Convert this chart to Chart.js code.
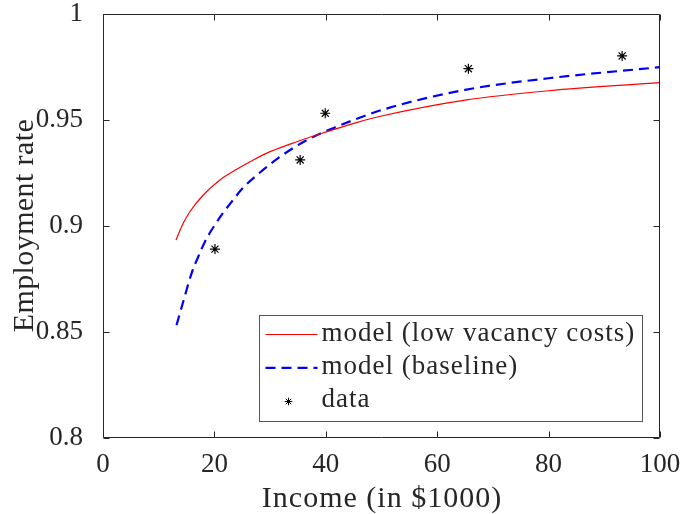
<!DOCTYPE html>
<html>
<head>
<meta charset="utf-8">
<script src="https://cdn.jsdelivr.net/npm/chart.js@4/dist/chart.umd.min.js"></script>
<style>
  html, body { margin: 0; padding: 0; background: #ffffff; font-family: "Liberation Serif", serif; }
  #wrap { width: 682px; height: 514px; }
</style>
</head>
<body>
<div id="wrap"><canvas id="chart" width="682" height="514"></canvas></div>
<script>
// Model: low vacancy costs
const incomeLowCost = [13.1, 14.4, 15.6, 18, 21, 24, 27, 30, 34.8, 39.6, 45.5, 50, 65, 80, 100];
const rateLowCost   = [0.8933, 0.9012, 0.9066, 0.9145, 0.9216, 0.9266, 0.9310, 0.9349, 0.9396, 0.9438, 0.9486, 0.9517, 0.9592, 0.9636, 0.9674];

// Model: baseline
const incomeBaseline = [13.2, 14.4, 15.9, 17.1, 18.3, 19.5, 21.3, 23.1, 24.9, 27.3, 31.8, 36.6, 42, 50, 65, 80, 100];
const rateBaseline   = [0.8532, 0.8642, 0.8776, 0.8854, 0.8925, 0.8980, 0.9051, 0.9113, 0.9172, 0.9231, 0.9325, 0.9404, 0.9467, 0.9545, 0.9640, 0.9695, 0.9747];

// Observed data
const incomeData = [20.1, 35.4, 39.9, 65.6, 93.2];
const rateData   = [0.889, 0.931, 0.953, 0.974, 0.980];

// Axes
const xTicks = [0, 20, 40, 60, 80, 100];
const xTickLabels = ['0', '20', '40', '60', '80', '100'];
const yTicks = [0.8, 0.85, 0.9, 0.95, 1];
const yTickLabels = ['0.8', '0.85', '0.9', '0.95', '1'];
const xTitle = 'Income (in $1000)';
const yTitle = 'Employment rate';
const seriesNames = ['model (low vacancy costs)', 'model (baseline)', 'data'];

const INK = '#262626';
const SERIF = '"Liberation Serif"';

const toPoints = (xs, ys) => xs.map((x, i) => ({ x: x, y: ys[i] }));

// Box around the plot with inward tick marks on all four sides
const framePlugin = {
  id: 'frame',
  afterDraw(chart) {
    const { ctx, chartArea: a, scales } = chart;
    const L = Math.round(a.left) + 0.5, R = Math.round(a.right) - 0.5;
    const T = Math.round(a.top) + 0.5, B = Math.round(a.bottom) - 0.5;
    const tick = 6;
    ctx.save();
    ctx.strokeStyle = INK;
    ctx.lineWidth = 1;
    ctx.beginPath();
    ctx.rect(L, T, R - L, B - T);
    xTicks.forEach(v => {
      const px = Math.round(scales.x.getPixelForValue(v)) + 0.5;
      ctx.moveTo(px, B); ctx.lineTo(px, B - tick);
      ctx.moveTo(px, T); ctx.lineTo(px, T + tick);
    });
    yTicks.forEach(v => {
      const py = Math.round(scales.y.getPixelForValue(v)) + 0.5;
      ctx.moveTo(L, py); ctx.lineTo(L + tick, py);
      ctx.moveTo(R, py); ctx.lineTo(R - tick, py);
    });
    ctx.stroke();
    ctx.restore();
  }
};

// Draw a string with a small extra gap after each glyph
function spacedText(ctx, text, x, y, gap, align) {
  const width = ctx.measureText(text).width + gap * (text.length - 1);
  let cx = align === 'center' ? x - width / 2 : x;
  const saved = ctx.textAlign;
  ctx.textAlign = 'left';
  for (const ch of text) {
    ctx.fillText(ch, cx, y);
    cx += ctx.measureText(ch).width + gap;
  }
  ctx.textAlign = saved;
}

// Axis titles
const titlePlugin = {
  id: 'axisTitles',
  afterDraw(chart) {
    const { ctx, chartArea: a } = chart;
    ctx.save();
    ctx.fillStyle = INK;
    ctx.font = '30px ' + SERIF;
    ctx.textBaseline = 'alphabetic';
    spacedText(ctx, xTitle, (a.left + a.right) / 2, 507, 1.0, 'center');
    ctx.translate(33, (a.top + a.bottom) / 2);
    ctx.rotate(-Math.PI / 2);
    spacedText(ctx, yTitle, 0, 0, 0.4, 'center');
    ctx.restore();
  }
};

// Legend box in the lower right corner of the plot
const legendPlugin = {
  id: 'boxLegend',
  afterDraw(chart) {
    const { ctx, chartArea: a } = chart;
    const ds = chart.data.datasets;
    const w = 383, h = 106;
    const left = Math.round(a.right - 401) + 0.5;
    const top = Math.round(a.bottom - 123) + 0.5;
    ctx.save();
    ctx.fillStyle = '#ffffff';
    ctx.fillRect(left, top, w, h);
    ctx.strokeStyle = '#555555';
    ctx.lineWidth = 1;
    ctx.strokeRect(left, top, w, h);

    const rows = [19, 52.3, 86];
    const baselines = [25.7, 58.5, 91.7];
    ds.forEach((d, i) => {
      const y = top + rows[i];
      if (d.showLine !== false) {
        ctx.save();
        ctx.strokeStyle = d.borderColor;
        ctx.lineWidth = d.borderWidth;
        ctx.setLineDash(d.borderDash || []);
        ctx.beginPath();
        ctx.moveTo(left + 6, y);
        ctx.lineTo(left + 58, y);
        ctx.stroke();
        ctx.restore();
      } else {
        ctx.save();
        ctx.strokeStyle = d.borderColor;
        ctx.fillStyle = d.borderColor;
        ctx.lineWidth = 1;
        Chart.helpers.drawPoint(ctx, { pointStyle: 'star', radius: 3.8, rotation: 0, borderWidth: 1 }, left + 29, y);
        ctx.restore();
      }
      ctx.fillStyle = INK;
      ctx.font = '27px ' + SERIF;
      ctx.textBaseline = 'alphabetic';
      spacedText(ctx, d.label, left + 62, top + baselines[i], 1.0, 'left');
    });
    ctx.restore();
  }
};

const chart = new Chart(document.getElementById('chart'), {
  type: 'scatter',
  data: {
    datasets: [
      {
        label: seriesNames[0],
        data: toPoints(incomeLowCost, rateLowCost),
        showLine: true,
        borderColor: '#ff0000',
        borderWidth: 1.2,
        pointRadius: 0,
        cubicInterpolationMode: 'monotone',
        fill: false
      },
      {
        label: seriesNames[1],
        data: toPoints(incomeBaseline, rateBaseline),
        showLine: true,
        borderColor: '#0000ff',
        borderWidth: 2.2,
        borderDash: [10, 6],
        pointRadius: 0,
        cubicInterpolationMode: 'monotone',
        fill: false
      },
      {
        label: seriesNames[2],
        data: toPoints(incomeData, rateData),
        showLine: false,
        pointStyle: 'star',
        pointRadius: 5,
        pointBorderWidth: 1.2,
        borderColor: '#000000',
        backgroundColor: '#000000'
      }
    ]
  },
  options: {
    responsive: false,
    animation: false,
    devicePixelRatio: 1,
    layout: { padding: { top: 13.5, right: 22, left: 0, bottom: 0 } },
    plugins: {
      legend: { display: false },
      tooltip: { enabled: false }
    },
    scales: {
      x: {
        type: 'linear',
        min: 0,
        max: 100,
        afterBuildTicks: s => { s.ticks = xTicks.map(v => ({ value: v })); },
        afterFit: s => { s.height = 76; s.paddingLeft = 0; s.paddingRight = 0; },
        grid: { display: false },
        border: { display: false },
        ticks: {
          autoSkip: false,
          maxRotation: 0,
          padding: 3,
          color: INK,
          font: { family: SERIF, size: 27, lineHeight: 1.2 },
          callback: v => xTickLabels[xTicks.indexOf(v)]
        }
      },
      y: {
        type: 'linear',
        min: 0.8,
        max: 1,
        afterBuildTicks: s => { s.ticks = yTicks.map(v => ({ value: v })); },
        afterFit: s => { s.width = 103; s.paddingTop = 0; s.paddingBottom = 0; },
        grid: { display: false },
        border: { display: false },
        ticks: {
          autoSkip: false,
          padding: 12,
          color: INK,
          font: { family: SERIF, size: 27, lineHeight: 1 },
          callback: v => {
            const i = yTicks.findIndex(t => Math.abs(t - v) < 1e-9);
            return i >= 0 ? yTickLabels[i] : '';
          }
        }
      }
    }
  },
  plugins: [framePlugin, legendPlugin, titlePlugin]
});

// Redraw once every face is ready
const redraw = () => chart.update('none');
document.fonts.ready.then(redraw);
window.addEventListener('load', redraw);
</script>
</body>
</html>
